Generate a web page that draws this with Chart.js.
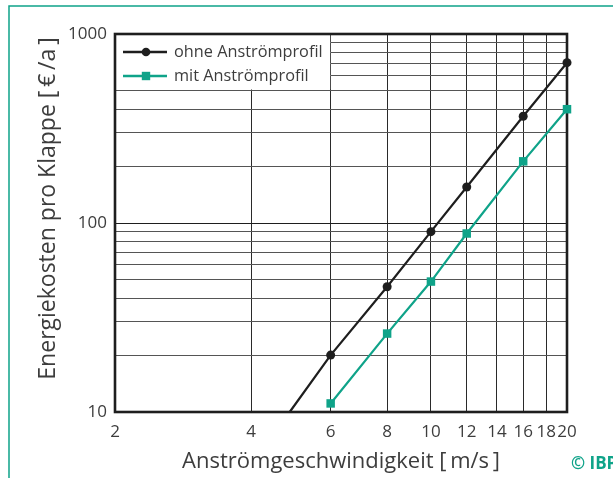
<!DOCTYPE html>
<html>
<head>
<meta charset="utf-8">
<script src="https://cdn.jsdelivr.net/npm/chart.js@4/dist/chart.umd.min.js"></script>
<style>
html,body{margin:0;padding:0;background:#fff;}
#wrap{width:613px;height:478px;position:relative;}
canvas{display:block;}
</style>
</head>
<body>
<div id="wrap"><canvas id="c" width="613" height="478"></canvas></div>
<script>
// ---- data ----
const seriesNames = ['ohne Anströmprofil', 'mit Anströmprofil'];
const ohneX = [4.87, 6, 8, 10, 12, 16, 20];
const ohneY = [10, 20, 46, 90, 155, 367, 705];
const mitX = [6, 8, 10, 12, 16, 20];
const mitY = [11.1, 26, 49, 88, 212, 400];
const xTicks = [2, 4, 6, 8, 10, 12, 14, 16, 18, 20];
const yLabelTicks = [10, 100, 1000];
const xTitle = 'Anströmgeschwindigkeit [\u2009m/s\u2009]';
const yTitle = 'Energiekosten pro Klappe [\u2009€\u2009/a\u2009]';
const credit = '© IBP';

const FONT = '"Open Sans", "DejaVu Sans", sans-serif';
const TEAL = '#0fa389';
const BLACK = '#1e1e1e';
const TXT = '#3d3d3d';
const Y_MIN = 10, Y_MAX = 1000;

function toPts(xs, ys) { return xs.map((x, i) => ({x: x, y: ys[i]})); }

const overlay = {
  id: 'overlay',
  beforeDatasetsDraw(chart) {
    const {ctx, chartArea: a, scales} = chart;
    ctx.save();
    // legend box (white, hides the grid behind it)
    const right = scales.x.getPixelForValue(6) - 0.5;
    ctx.fillStyle = '#fff';
    ctx.fillRect(a.left, a.top, right - a.left, 55.5);
    chart.data.datasets.forEach((ds, i) => {
      const y = a.top + 18 + i * 24;
      ctx.strokeStyle = ds.borderColor;
      ctx.lineWidth = 2.5;
      ctx.beginPath();
      ctx.moveTo(a.left + 8, y);
      ctx.lineTo(a.left + 52, y);
      ctx.stroke();
      ctx.fillStyle = ds.pointBackgroundColor;
      ctx.beginPath();
      if (ds.pointStyle === 'rect') {
        ctx.rect(a.left + 31 - 4.2, y - 4.2, 8.4, 8.4);
      } else {
        ctx.arc(a.left + 31, y, 4.3, 0, Math.PI * 2);
      }
      ctx.fill();
      ctx.fillStyle = TXT;
      ctx.font = '16.3px ' + FONT;
      ctx.textAlign = 'left';
      ctx.textBaseline = 'middle';
      ctx.fillText(ds.label, a.left + 59, y);
    });
    // plot frame
    ctx.strokeStyle = BLACK;
    ctx.lineWidth = 2.6;
    ctx.strokeRect(a.left, a.top, a.right - a.left, a.bottom - a.top);
    ctx.restore();
  },
  afterDraw(chart) {
    const {ctx} = chart;
    ctx.save();
    // outer teal frame
    ctx.strokeStyle = TEAL;
    ctx.lineWidth = 1.5;
    ctx.beginPath();
    ctx.moveTo(9, 478);
    ctx.lineTo(9, 6);
    ctx.lineTo(613, 6);
    ctx.stroke();
    // y-axis title
    ctx.fillStyle = TXT;
    ctx.font = '23px ' + FONT;
    ctx.textAlign = 'center';
    ctx.textBaseline = 'middle';
    ctx.translate(48, 208.5);
    ctx.rotate(-Math.PI / 2);
    ctx.fillText(yTitle, 0, 0);
    ctx.restore();
    // credit
    ctx.save();
    ctx.fillStyle = TEAL;
    ctx.font = 'bold 17px ' + FONT;
    ctx.textAlign = 'left';
    ctx.textBaseline = 'middle';
    ctx.fillText(credit, 571, 464);
    ctx.restore();
  }
};

new Chart(document.getElementById('c'), {
  type: 'line',
  data: {
    datasets: [
      {
        label: seriesNames[0],
        data: toPts(ohneX, ohneY),
        borderColor: BLACK,
        backgroundColor: BLACK,
        pointBackgroundColor: BLACK,
        pointBorderWidth: 0,
        pointStyle: 'circle',
        pointRadius: c => (c.raw && c.raw.y <= Y_MIN ? 0 : 4.5),
        borderWidth: 2.2,
        clip: false,
        tension: 0
      },
      {
        label: seriesNames[1],
        data: toPts(mitX, mitY),
        borderColor: TEAL,
        backgroundColor: TEAL,
        pointBackgroundColor: TEAL,
        pointBorderWidth: 0,
        pointStyle: 'rect',
        pointRadius: 6,
        borderWidth: 2.2,
        clip: false,
        tension: 0
      }
    ]
  },
  options: {
    responsive: false,
    devicePixelRatio: 1,
    animation: false,
    layout: { padding: { left: 30, right: 46, top: 34, bottom: 0 } },
    plugins: { legend: { display: false }, tooltip: { enabled: false }, title: { display: false } },
    scales: {
      x: {
        type: 'logarithmic',
        min: 2, max: 20,
        afterBuildTicks: s => { s.ticks = xTicks.map(v => ({value: v})); },
        afterFit: s => { s.height = 66; },
        ticks: {
          autoSkip: false, maxRotation: 0, minRotation: 0,
          padding: 10,
          color: TXT,
          font: { family: FONT, size: 17 },
          callback: v => (xTicks.includes(v) ? String(v) : '')
        },
        grid: { color: '#2a2a2a', lineWidth: 1, drawTicks: false },
        border: { display: false },
        title: {
          display: true, text: xTitle, color: TXT,
          font: { family: FONT, size: 22, lineHeight: 1 },
          padding: { top: 0, bottom: 5 }
        }
      },
      y: {
        type: 'logarithmic',
        min: Y_MIN, max: Y_MAX,
        afterBuildTicks: s => {
          const t = [];
          for (let d = Y_MIN; d < Y_MAX; d *= 10) {
            for (let m = 1; m < 10; m++) t.push({value: m * d});
          }
          t.push({value: Y_MAX});
          s.ticks = t;
        },
        afterFit: s => { s.width = 85; },
        ticks: {
          autoSkip: false,
          padding: 8,
          color: TXT,
          font: { family: FONT, size: 17 },
          callback: v => (yLabelTicks.includes(v) ? String(v) : '')
        },
        grid: {
          color: c => (c.tick && yLabelTicks.includes(c.tick.value) ? '#1e1e1e' : '#555'),
          lineWidth: 1, drawTicks: false
        },
        border: { display: false }
      }
    }
  },
  plugins: [overlay]
});
</script>
</body>
</html>
